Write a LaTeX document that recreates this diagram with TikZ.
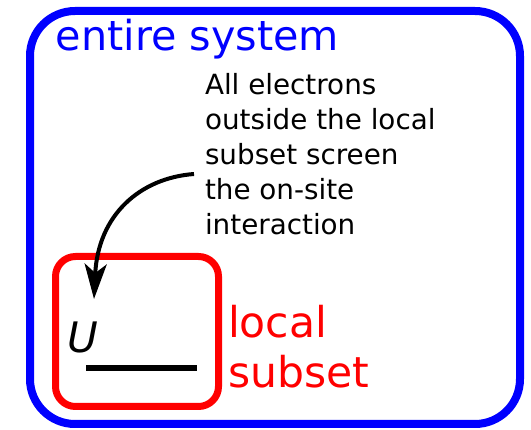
\documentclass[tikz,border=0pt]{standalone}
\usepackage{fontspec}
\setmainfont{DejaVu Sans}
\usetikzlibrary{arrows.meta}
\definecolor{sysblue}{RGB}{0,0,255}
\definecolor{subred}{RGB}{255,0,0}
\tikzset{
  lbl/.style={inner sep=0pt, outer sep=0pt},
}
\begin{document}
\begin{tikzpicture}[x=1pt,y=-1pt]
\useasboundingbox (0,0) rectangle (531,430);
% entire system box
\draw[sysblue, line width=8pt, rounded corners=45pt] (30,11) rectangle (520,424);
\node[lbl, anchor=base west, text=sysblue, font=\fontsize{41.3}{48}\selectfont] (sys) at (56,51) {entire system};
% local subset box
\draw[subred, line width=7pt, rounded corners=20pt] (55.5,256.5) rectangle (218.5,406.5);
\node[lbl, anchor=base west, text=subred, font=\fontsize{42.5}{50}\selectfont] (loc) at (228,338) {local};
\node[lbl, anchor=base west, text=subred, font=\fontsize{42.5}{50}\selectfont] (sub) at (228,388) {subset};
% U and level
\node[lbl, anchor=base west, font=\fontsize{42}{48}\selectfont\itshape] (U) at (67,353) {U};
\coordinate (lvlA) at (86,368);
\coordinate (lvlB) at (197,368);
\draw[line width=6pt] (lvlA) -- (lvlB);
% description
\node[lbl, anchor=north west, align=left, font=\fontsize{27.8}{35}\selectfont] (txt) at (205,73) {All electrons\\outside the local\\subset screen\\the on-site\\interaction};
\coordinate (arrS) at (194,174);
\coordinate (arrE) at (94,299);
\draw[line width=4pt, -{Stealth[length=35pt,width=22pt,inset=9pt]}] (arrS) .. controls (140,178) and (98,215) .. (arrE);
\end{tikzpicture}
\end{document}
